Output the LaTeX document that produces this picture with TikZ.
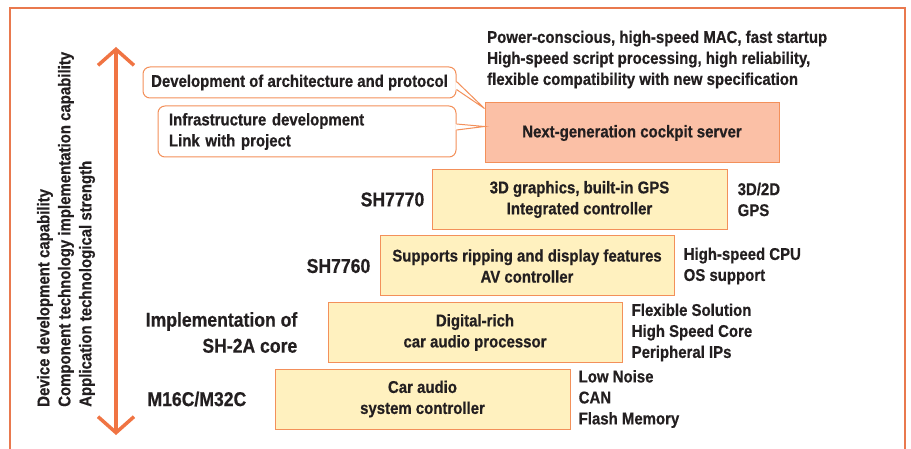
\documentclass[tikz,border=0pt]{standalone}
\usepackage{fontspec}
\setmainfont{Liberation Sans}[FakeStretch=0.88, FakeBold=0.6]
\usetikzlibrary{positioning, arrows.meta, calc}

\definecolor{framecol}{HTML}{E9794E}
\definecolor{arrowcol}{HTML}{F07443}
\definecolor{boxline}{HTML}{F3905A}
\definecolor{chipfill}{HTML}{FFF1BF}
\definecolor{serverfill}{HTML}{FBC0A6}
\definecolor{ink}{HTML}{231F20}

\tikzset{
    chip/.style={draw=boxline, fill=chipfill, line width=1pt, minimum width=295pt,
        minimum height=60pt, align=center, inner sep=0pt},
    note/.style={align=left, inner sep=0pt},
    part/.style={align=right, inner sep=0pt, font=\bfseries\fontsize{20}{26}\selectfont},
    callout/.style={draw=boxline, fill=white, line width=1pt, rounded corners=7pt,
        inner sep=0pt},
}

\begin{document}
\begin{tikzpicture}[x=1pt, y=-1pt, font=\bfseries\fontsize{17}{21}\selectfont, text=ink]

\useasboundingbox (0,0) rectangle (911,449);

% frame, open at the bottom
\draw[framecol, line width=1.5pt] (10,449) -- (10,8) -- (905,8) -- (905,449);

% capability axis
\coordinate (up) at (116,47);
\coordinate (down) at (116,435);
\draw[arrowcol, line width=3.5pt,
    {Straight Barb[length=16pt,width=36pt]}-{Straight Barb[length=16pt,width=36pt]}] (up) -- (down);
\node[rotate=90, anchor=west, note] (axis) at (66,407)
    {Device development capability\\Component technology implementation capability\\Application technological strength};

% product steps
\node[chip, fill=serverfill, minimum width=294pt] (server) at (632,133) {Next-generation cockpit server};
\node[chip] (sh7770) at (579.5,199.5) {3D graphics, built-in GPS\\Integrated controller};
\node[chip, minimum width=294pt] (sh7760) at (527,266) {Supports ripping and display features\\AV controller};
\node[chip, minimum width=294pt] (sh2a) at (475,332.5) {Digital-rich\\car audio processor};
\node[chip] (m16c) at (422.5,399) {Car audio\\system controller};

% part names
\node[part, left=7pt of sh7770] (lbl7770) {SH7770};
\node[part, left=9pt of sh7760] (lbl7760) {SH7760};
\node[part, left=30pt of sh2a] (lblsh2a) {Implementation of\\SH-2A core};
\node[part, left=28pt of m16c] (lblm16c) {M16C/M32C};

% features
\node[note, anchor=west] (feat) at (487,59.5)
    {Power-conscious, high-speed MAC, fast startup\\High-speed script processing, high reliability,\\flexible compatibility with new specification};
\node[note, right=10pt of sh7770] (feat7770) {3D/2D\\GPS};
\node[note, right=9pt of sh7760] (feat7760) {High-speed CPU\\OS support};
\node[note, right=9pt of sh2a] (featsh2a) {Flexible Solution\\High Speed Core\\Peripheral IPs};
\node[note, right=8pt of m16c] (featm16c) {Low Noise\\CAN\\Flash Memory};

% callouts
\node[callout, minimum width=313pt, minimum height=31pt] (arch) at (299.5,82.5)
    {Development of architecture and protocol};
\node[callout, minimum width=298pt, minimum height=51pt, text width=276pt, align=left] (infra) at (307,131.5)
    {Infrastructure development\\Link with project};

\coordinate (archtip) at ($(server.north west)+(0,6)$);
\coordinate (infratip) at ($(server.north west)+(0,24)$);
\fill[white] ($(arch.east)+(-1.2,-1)$) -- (archtip) -- ($(arch.east)+(-1.2,7)$) -- cycle;
\draw[boxline, line width=1pt] ($(arch.east)+(0,-1)$) -- (archtip) -- ($(arch.east)+(0,7)$);
\fill[white] ($(infra.east)+(-1.2,-7.5)$) -- (infratip) -- ($(infra.east)+(-1.2,-1.5)$) -- cycle;
\draw[boxline, line width=1pt] ($(infra.east)+(0,-7.5)$) -- (infratip) -- ($(infra.east)+(0,-1.5)$);

\end{tikzpicture}
\end{document}
